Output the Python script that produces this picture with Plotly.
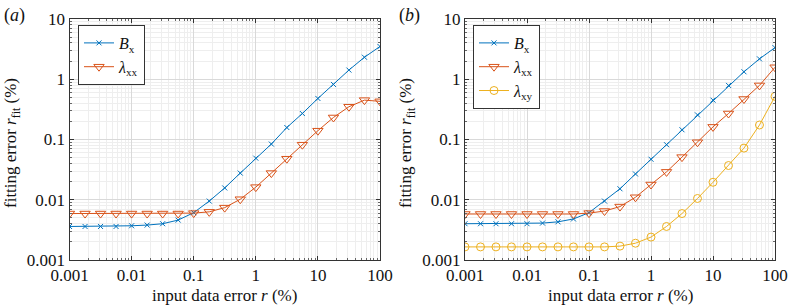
import plotly.graph_objects as go

# ---------------- data ----------------
x_vals = [0.001, 0.00178, 0.00316, 0.00562, 0.01, 0.0178, 0.0316, 0.0562, 0.1, 0.178,
          0.316, 0.562, 1, 1.78, 3.16, 5.62, 10, 17.8, 31.6, 56.2, 100]

a_Bx = [0.0036, 0.0036, 0.0036, 0.0036, 0.0037, 0.0038, 0.0040, 0.0046, 0.0061, 0.0095,
        0.0157, 0.0277, 0.049, 0.084, 0.158, 0.27, 0.48, 0.82, 1.42, 2.32, 3.5]
a_lxx = [0.0059, 0.0059, 0.0059, 0.0059, 0.0059, 0.0059, 0.0059, 0.0059, 0.0060, 0.0063,
         0.0074, 0.0102, 0.0162, 0.0277, 0.048, 0.082, 0.14, 0.232, 0.35, 0.45, 0.43]

b_Bx = [0.0040, 0.0040, 0.0040, 0.0040, 0.0040, 0.0041, 0.0043, 0.0048, 0.0061, 0.0095,
        0.0152, 0.0268, 0.047, 0.082, 0.145, 0.256, 0.45, 0.79, 1.33, 2.18, 3.35]
b_lxx = [0.0058, 0.0058, 0.0058, 0.0058, 0.0058, 0.0058, 0.0058, 0.0058, 0.0060, 0.0065,
         0.0077, 0.0110, 0.0179, 0.029, 0.051, 0.09, 0.162, 0.27, 0.47, 0.79, 1.58]
b_lxy = [0.00165, 0.00165, 0.00165, 0.00165, 0.00165, 0.00165, 0.00165, 0.00165, 0.00165, 0.00165,
         0.0017, 0.0019, 0.0024, 0.0036, 0.0059, 0.0105, 0.0195, 0.037, 0.072, 0.174, 0.52]

x_ticks = [0.001, 0.01, 0.1, 1, 10, 100]
x_ticktext = ["0.001", "0.01", "0.1", "1", "10", "100"]
y_ticks = [0.001, 0.01, 0.1, 1, 10]
y_ticktext = ["0.001", "0.01", "0.1", "1", "10"]

name_Bx = "<i>B</i><sub>x</sub>"
name_lxx = "<i>λ</i><sub>xx</sub>"
name_lxy = "<i>λ</i><sub>xy</sub>"

C_BLUE = "#0072BD"
C_RED = "#D95319"
C_YEL = "#EDB120"
FONT = "Liberation Serif, DejaVu Serif, Times New Roman, serif"

fig = go.Figure()

def add(x, y, name, color, symbol, size, xa, ya, legend):
    fig.add_trace(go.Scatter(
        x=x, y=y, name=name, mode="lines+markers",
        line=dict(color=color, width=1),
        marker=dict(symbol=symbol, size=size, color=color,
                    line=dict(color=color, width=1)),
        xaxis=xa, yaxis=ya, legend=legend))

add(x_vals, a_Bx, name_Bx, C_BLUE, "x-thin", 5, "x", "y", "legend")
add(x_vals, a_lxx, name_lxx, C_RED, "triangle-down-open", 9, "x", "y", "legend")
add(x_vals, b_Bx, name_Bx, C_BLUE, "x-thin", 5, "x2", "y2", "legend2")
add(x_vals, b_lxx, name_lxx, C_RED, "triangle-down-open", 9, "x2", "y2", "legend2")
add(x_vals, b_lxy, name_lxy, C_YEL, "circle-open", 8, "x2", "y2", "legend2")

grid_major = "#d9d9d9"
grid_minor = "#eeeeee"

def minor_vals(lo, hi):
    return [m * 10.0 ** e for e in range(lo, hi) for m in range(2, 10)]

def axis(rng, tv, tt, domain, anchor, minor):
    return dict(type="log", domain=domain, anchor=anchor, range=rng, automargin=False,
                tickvals=tv, ticktext=tt, ticks="inside", ticklen=4,
                tickcolor="#333", mirror="allticks", showline=True, linecolor="#333",
                linewidth=1, showgrid=True, gridcolor=grid_major, gridwidth=1,
                minor=dict(tickvals=minor, ticks="inside", ticklen=2, tickcolor="#666",
                           showgrid=True, gridcolor=grid_minor, gridwidth=1),
                tickfont=dict(family=FONT, size=17, color="#111"), zeroline=False)

yd = [1 - 260 / 305, 1 - 19 / 305]
xa_dom = [69.5 / 789, 380 / 789]
xb_dom = [465 / 789, 775 / 789]
xm = minor_vals(-3, 2)
ym = minor_vals(-3, 1)

leg_common = dict(bgcolor="white", bordercolor="#333", borderwidth=1,
                  font=dict(family=FONT, size=16, color="#111"),
                  xanchor="left", yanchor="top", tracegroupgap=0,
                  itemwidth=30)

annotations = [
    dict(text="(<i>a</i>)", x=2 / 789, y=1 - 3 / 305, xref="paper", yref="paper",
         xanchor="left", yanchor="top", showarrow=False,
         font=dict(family=FONT, size=18, color="#111")),
    dict(text="(<i>b</i>)", x=397 / 789, y=1 - 3 / 305, xref="paper", yref="paper",
         xanchor="left", yanchor="top", showarrow=False,
         font=dict(family=FONT, size=18, color="#111")),
]
for cx in [(69.5 + 380) / 2 / 789, (465 + 775) / 2 / 789]:
    annotations.append(dict(text="input data error <i>r</i> (%)", x=cx, y=1 - 295 / 305,
                            xref="paper", yref="paper", xanchor="center", yanchor="middle",
                            showarrow=False, font=dict(family=FONT, size=17, color="#111")))
for lx in [12 / 789, 407 / 789]:
    annotations.append(dict(text="fitting error <i>r</i><sub>fit</sub> (%)", x=lx,
                            y=1 - 143 / 305, xref="paper", yref="paper",
                            xanchor="center", yanchor="middle", textangle=-90,
                            showarrow=False, font=dict(family=FONT, size=17, color="#111")))

fig.update_layout(
    width=789, height=305, margin=dict(l=0, r=0, t=0, b=0, autoexpand=False),
    paper_bgcolor="white", plot_bgcolor="white",
    xaxis=axis([-3, 2], x_ticks, x_ticktext, xa_dom, "y", xm),
    yaxis=axis([-3, 1], y_ticks, y_ticktext, yd, "x", ym),
    xaxis2=axis([-3, 2], x_ticks, x_ticktext, xb_dom, "y2", xm),
    yaxis2=axis([-3, 1], y_ticks, y_ticktext, yd, "x2", ym),
    legend=dict(x=78 / 789, y=1 - 25 / 305, **leg_common),
    legend2=dict(x=473 / 789, y=1 - 25 / 305, **leg_common),
    annotations=annotations,
    font=dict(family=FONT),
)

fig.write_html("out.html", config={"displayModeBar": False},
               post_script="document.body.style.margin='0';document.body.style.overflow='hidden';")
